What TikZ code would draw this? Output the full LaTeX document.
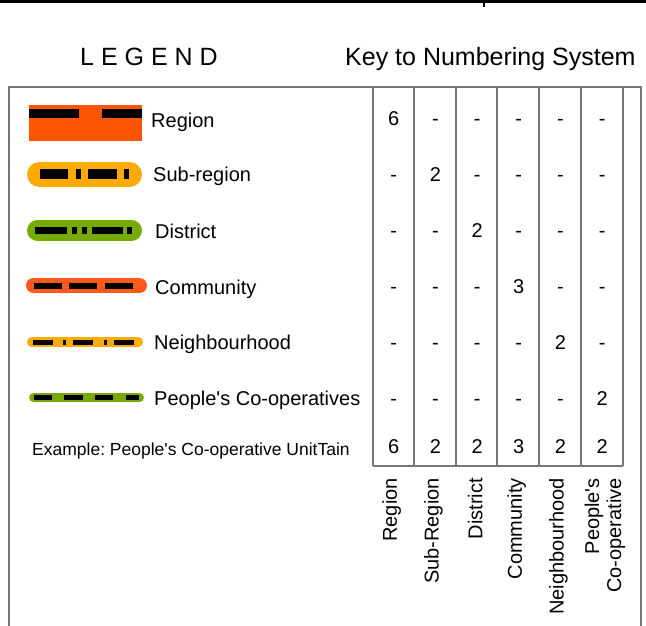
\documentclass[tikz,border=0pt]{standalone}
\usepackage{fontspec}
\setmainfont{Liberation Sans}
\usepackage{tikz}
\definecolor{regorange}{HTML}{FF5500}
\definecolor{subyellow}{HTML}{FFAA00}
\definecolor{distgreen}{HTML}{77AA00}
\definecolor{comorange}{HTML}{FF5A1A}
\definecolor{framegray}{HTML}{777777}
\newcommand{\apos}{\textquotesingle}

\begin{document}
\frenchspacing
\begin{tikzpicture}[x=1pt,y=-1pt,
  lbl/.style={anchor=base west,inner sep=0,font=\fontsize{20}{23}\selectfont},
  num/.style={anchor=base,inner sep=0,font=\fontsize{20}{23}\selectfont},
  ttl/.style={anchor=base west,inner sep=0,font=\fontsize{25}{30}\selectfont},
  vlbl/.style={rotate=90,anchor=east,inner sep=0,align=right,font=\fontsize{20}{22}\selectfont},
  pill/.style={line width=#1,line cap=round}]
\useasboundingbox (0,0) rectangle (646,626);
% top rule
\draw[line width=2.5] (0,1.5)--(646,1.5);
\draw[line width=1.5] (484,0)--(484,7);
% titles
\node (legend) at (80,66) [ttl]{L E G E N D};
\node (keytitle) at (345,66) [ttl]{Key to Numbering System};
% frame and table grid
\draw[framegray,line width=2.5] (9,626)--(9,87)--(641,87)--(641,626);
\foreach \x in {373,414,456,497,539,581,623}
  \draw[framegray,line width=2.5] (\x,87)--(\x,466);
\draw[framegray,line width=2.5] (373,466)--(623,466);
% region
\fill [regorange](29,105) rectangle (142,141);
\fill (29,109) rectangle (79,118);
\fill (102,109) rectangle (142,118);
\node (region) at (151,128) [lbl]{Region};
% sub-region
\draw[pill=25,subyellow] (39.5,174.5)--(129.5,174.5);
\fill (40,169) rectangle (68,179);
\fill (76,169) rectangle (81,179);
\fill (88,169) rectangle (117,179);
\fill (124,169) rectangle (129,179);
\node (subregion) at (153,182) [lbl]{Sub-region};
% district
\draw[pill=21,distgreen] (37.5,230.5)--(131.5,230.5);
\fill (35,227) rectangle (67,234);
\fill (72,227) rectangle (77,234);
\fill (82,227) rectangle (87,234);
\fill (92,227) rectangle (123,234);
\fill (127,227) rectangle (132,234);
\node (district) at (155,238) [lbl]{District};
% community
\draw[pill=15,comorange] (33.5,285.5)--(139.5,285.5);
\fill (34,283) rectangle (62,289);
\fill (69,283) rectangle (97,289);
\fill (105,283) rectangle (133,289);
\node (community) at (155,294) [lbl]{Community};
% neighbourhood
\draw[pill=10,subyellow] (32,342)--(138,342);
\fill (33,339.5) rectangle (53,344.5);
\fill (63,339.5) rectangle (66,344.5);
\fill (73,339.5) rectangle (93,344.5);
\fill (104,339.5) rectangle (107,344.5);
\fill (114,339.5) rectangle (134,344.5);
\node (neighbourhood) at (154,349) [lbl]{Neighbourhood};
% people's co-operatives
\draw[pill=9.5,distgreen] (33.75,397.5)--(139.25,397.5);
\fill (34,395.2) rectangle (52,399.7);
\fill (64,395.2) rectangle (83,399.7);
\fill (95,395.2) rectangle (113,399.7);
\fill (126,395.2) rectangle (139,399.7);
\node (coop) at (154,405) [lbl]{People\apos s Co-operatives};
% example row
\node (example) at (32,455) [lbl,font=\fontsize{17.5}{20}\selectfont]{Example: People\apos s Co-operative UnitTain};
% key numbers
\foreach \vals [count=\r] in {{6,-,-,-,-,-},{-,2,-,-,-,-},{-,-,2,-,-,-},{-,-,-,3,-,-},{-,-,-,-,2,-},{-,-,-,-,-,2}}
  \foreach \v [count=\c] in \vals
    \node (n\r\c) at (352+41.7*\c,69+56*\r) [num]{\v};
\foreach \v [count=\c] in {6,2,2,3,2,2}
  \node (ex\c) at (352+41.7*\c,453) [num]{\v};
% column headings
\foreach \t [count=\c] in {Region,Sub-Region,District,Community,Neighbourhood}
  \node (col\c) at (350+41.7*\c,478) [vlbl]{\t};
\node (col6) at (605,478) [vlbl]{People\apos s\\Co-operative};
\end{tikzpicture}
\end{document}
